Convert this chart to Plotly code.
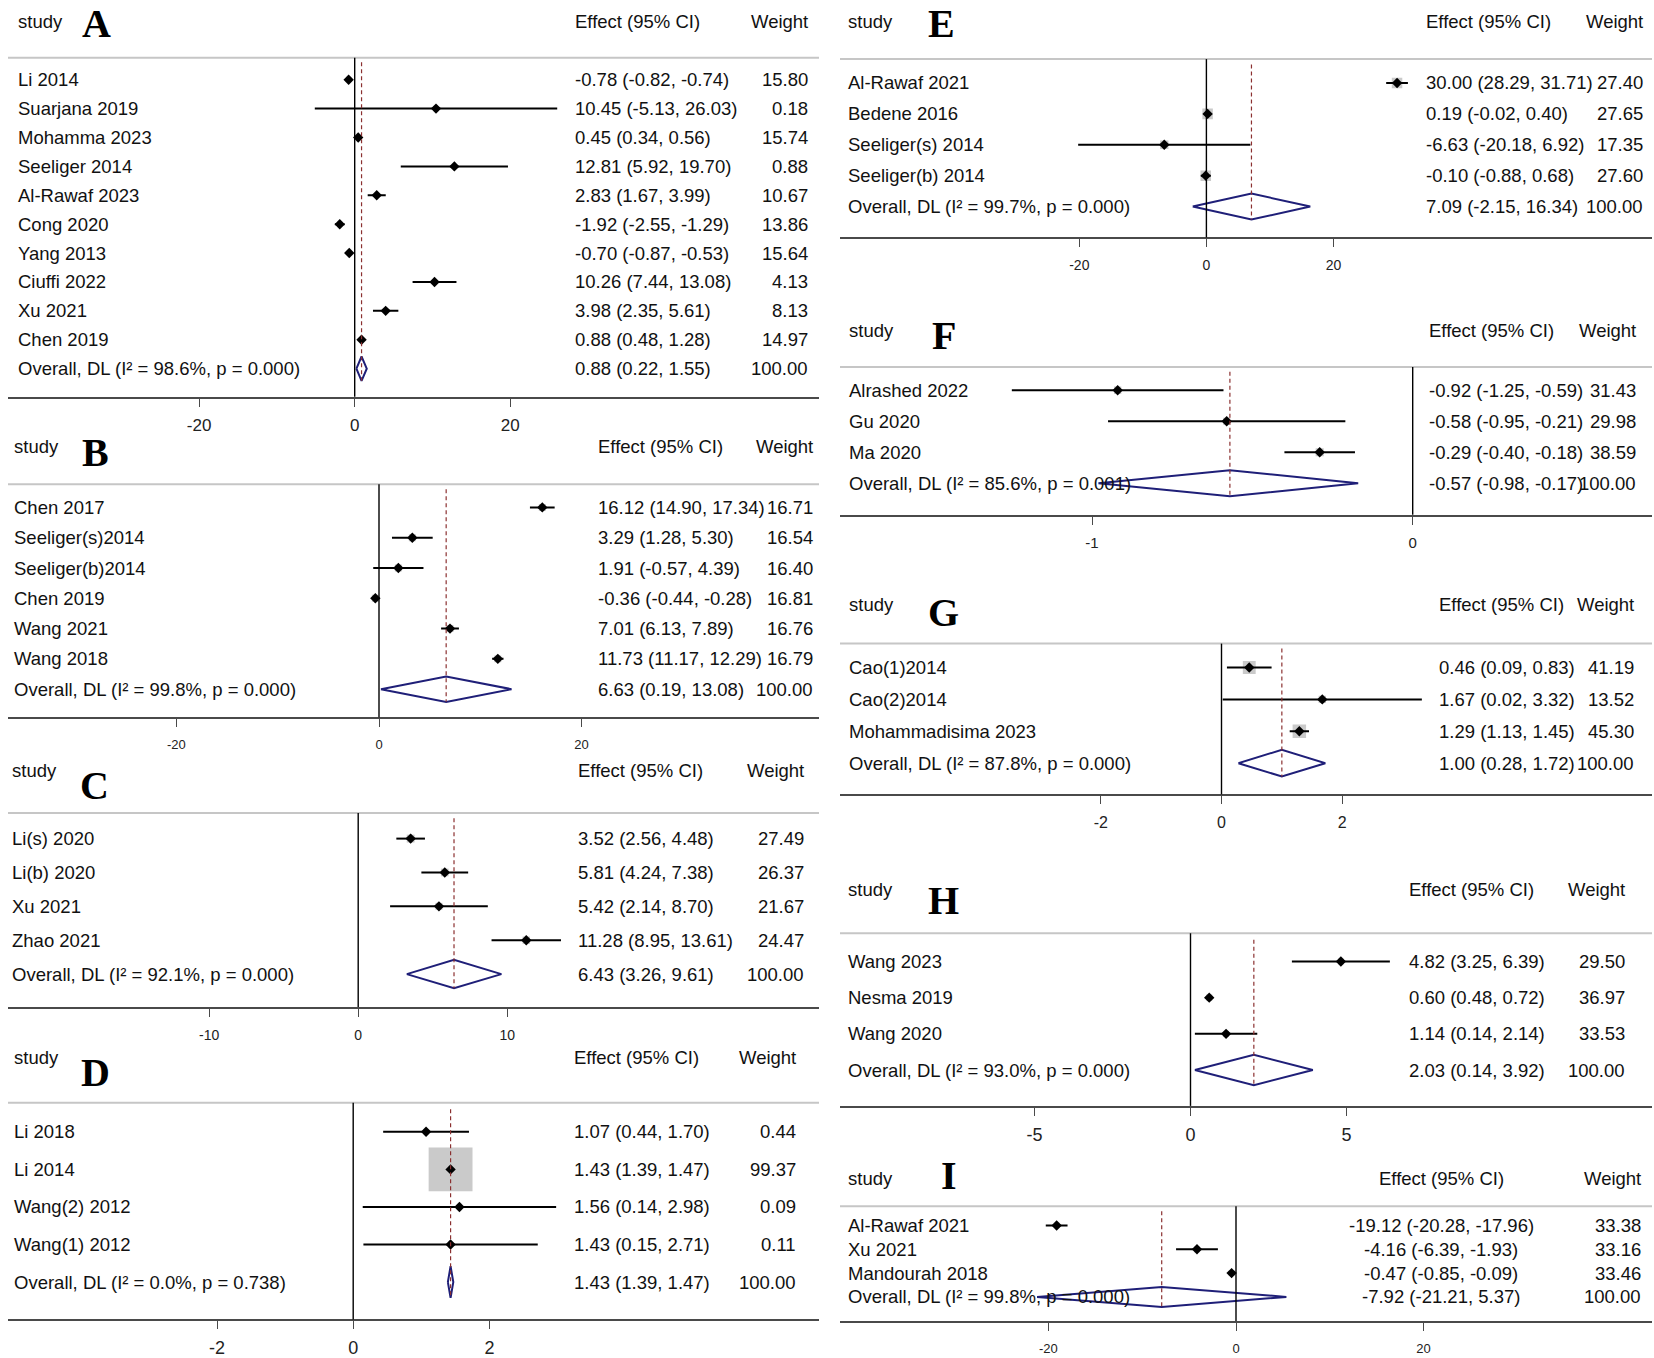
import plotly.graph_objects as go
import numpy as np

W, H = 1654, 1358
FONT = "Liberation Sans, Arial, Helvetica, sans-serif"
SERIF = "Liberation Serif, Times New Roman, serif"

# ---------------- data ----------------
A_study = ["Li 2014", "Suarjana 2019", "Mohamma 2023", "Seeliger 2014", "Al-Rawaf 2023",
           "Cong 2020", "Yang 2013", "Ciuffi 2022", "Xu 2021", "Chen 2019"]
A_est = [-0.78, 10.45, 0.45, 12.81, 2.83, -1.92, -0.70, 10.26, 3.98, 0.88]
A_lo = [-0.82, -5.13, 0.34, 5.92, 1.67, -2.55, -0.87, 7.44, 2.35, 0.48]
A_hi = [-0.74, 26.03, 0.56, 19.70, 3.99, -1.29, -0.53, 13.08, 5.61, 1.28]
A_wt = [15.80, 0.18, 15.74, 0.88, 10.67, 13.86, 15.64, 4.13, 8.13, 14.97]
A_overall = [0.88, 0.22, 1.55]
A_het = [98.6, 0.000]
A_ticks = [-20, 0, 20]

B_study = ["Chen 2017", "Seeliger(s)2014", "Seeliger(b)2014", "Chen 2019", "Wang 2021", "Wang 2018"]
B_est = [16.12, 3.29, 1.91, -0.36, 7.01, 11.73]
B_lo = [14.90, 1.28, -0.57, -0.44, 6.13, 11.17]
B_hi = [17.34, 5.30, 4.39, -0.28, 7.89, 12.29]
B_wt = [16.71, 16.54, 16.40, 16.81, 16.76, 16.79]
B_overall = [6.63, 0.19, 13.08]
B_het = [99.8, 0.000]
B_ticks = [-20, 0, 20]

C_study = ["Li(s) 2020", "Li(b) 2020", "Xu 2021", "Zhao 2021"]
C_est = [3.52, 5.81, 5.42, 11.28]
C_lo = [2.56, 4.24, 2.14, 8.95]
C_hi = [4.48, 7.38, 8.70, 13.61]
C_wt = [27.49, 26.37, 21.67, 24.47]
C_overall = [6.43, 3.26, 9.61]
C_het = [92.1, 0.000]
C_ticks = [-10, 0, 10]

D_study = ["Li 2018", "Li 2014", "Wang(2) 2012", "Wang(1) 2012"]
D_est = [1.07, 1.43, 1.56, 1.43]
D_lo = [0.44, 1.39, 0.14, 0.15]
D_hi = [1.70, 1.47, 2.98, 2.71]
D_wt = [0.44, 99.37, 0.09, 0.11]
D_overall = [1.43, 1.39, 1.47]
D_het = [0.0, 0.738]
D_ticks = [-2, 0, 2]

E_study = ["Al-Rawaf 2021", "Bedene 2016", "Seeliger(s) 2014", "Seeliger(b) 2014"]
E_est = [30.00, 0.19, -6.63, -0.10]
E_lo = [28.29, -0.02, -20.18, -0.88]
E_hi = [31.71, 0.40, 6.92, 0.68]
E_wt = [27.40, 27.65, 17.35, 27.60]
E_overall = [7.09, -2.15, 16.34]
E_het = [99.7, 0.000]
E_ticks = [-20, 0, 20]

F_study = ["Alrashed 2022", "Gu 2020", "Ma 2020"]
F_est = [-0.92, -0.58, -0.29]
F_lo = [-1.25, -0.95, -0.40]
F_hi = [-0.59, -0.21, -0.18]
F_wt = [31.43, 29.98, 38.59]
F_overall = [-0.57, -0.98, -0.17]
F_het = [85.6, 0.001]
F_ticks = [-1, 0]

G_study = ["Cao(1)2014", "Cao(2)2014", "Mohammadisima 2023"]
G_est = [0.46, 1.67, 1.29]
G_lo = [0.09, 0.02, 1.13]
G_hi = [0.83, 3.32, 1.45]
G_wt = [41.19, 13.52, 45.30]
G_overall = [1.00, 0.28, 1.72]
G_het = [87.8, 0.000]
G_ticks = [-2, 0, 2]

H_study = ["Wang 2023", "Nesma 2019", "Wang 2020"]
H_est = [4.82, 0.60, 1.14]
H_lo = [3.25, 0.48, 0.14]
H_hi = [6.39, 0.72, 2.14]
H_wt = [29.50, 36.97, 33.53]
H_overall = [2.03, 0.14, 3.92]
H_het = [93.0, 0.000]
H_ticks = [-5, 0, 5]

I_study = ["Al-Rawaf 2021", "Xu 2021", "Mandourah 2018"]
I_est = [-19.12, -4.16, -0.47]
I_lo = [-20.28, -6.39, -0.85]
I_hi = [-17.96, -1.93, -0.09]
I_wt = [33.38, 33.16, 33.46]
I_overall = [-7.92, -21.21, 5.37]
I_het = [99.8, 0.000]
I_ticks = [-20, 0, 20]

OVERALL_WT = 100.00

panels_data = {
    "A": (A_study, A_est, A_lo, A_hi, A_wt, A_overall, A_het, A_ticks),
    "B": (B_study, B_est, B_lo, B_hi, B_wt, B_overall, B_het, B_ticks),
    "C": (C_study, C_est, C_lo, C_hi, C_wt, C_overall, C_het, C_ticks),
    "D": (D_study, D_est, D_lo, D_hi, D_wt, D_overall, D_het, D_ticks),
    "E": (E_study, E_est, E_lo, E_hi, E_wt, E_overall, E_het, E_ticks),
    "F": (F_study, F_est, F_lo, F_hi, F_wt, F_overall, F_het, F_ticks),
    "G": (G_study, G_est, G_lo, G_hi, G_wt, G_overall, G_het, G_ticks),
    "H": (H_study, H_est, H_lo, H_hi, H_wt, H_overall, H_het, H_ticks),
    "I": (I_study, I_est, I_lo, I_hi, I_wt, I_overall, I_het, I_ticks),
}

# ---------------- layout (pixel geometry of each panel) ----------------
L = dict(x0=8, x1=819)
R = dict(x0=840, x1=1652)
geom = {
    "A": dict(**L, zero=354.7, ppu=7.78, gray=58, row0=80, sp=29.0, axis=398.3, head=22,
              lx=16.4, let=(96, 23.5), eff=573, effanc="left", wt=810, tfs=17, boxk=0.9),
    "B": dict(**L, zero=379, ppu=10.13, gray=486, row0=509.3, sp=30.4, axis=720, head=448.3,
              lx=12.4, let=(95, 454), eff=595.5, effanc="left", wt=815, tfs=13, boxk=1.7),
    "C": dict(**L, zero=358.2, ppu=14.9, gray=816, row0=841.7, sp=34.0, axis=1010.7, head=773.3,
              lx=10, let=(94.5, 788), eff=575.6, effanc="left", wt=806, tfs=14, boxk=1.5),
    "D": dict(**L, zero=353.2, ppu=68.1, gray=1106.7, row0=1136, sp=37.7, axis=1324.3, head=1061,
              lx=12.4, let=(95, 1076), eff=572, effanc="left", wt=797.5, tfs=18, boxk=4.4),
    "E": dict(**R, zero=1206.4, ppu=6.355, gray=59.3, row0=83.3, sp=31.0, axis=238.3, head=21.7,
              lx=845.8, let=(941, 24), eff=1423.8, effanc="left", wt=1645, tfs=14, boxk=2.0),
    "F": dict(**R, zero=1412.7, ppu=320.7, gray=368.3, row0=391.7, sp=31.1, axis=516.7, head=331.7,
              lx=847, let=(944, 337), eff=1426.6, effanc="left", wt=1638.4, tfs=15, boxk=1.3),
    "G": dict(**R, zero=1221.5, ppu=60.35, gray=646, row0=670, sp=32.0, axis=797.3, head=606.7,
              lx=847, let=(943, 614.5), eff=1436.6, effanc="left", wt=1635.6, tfs=16, boxk=2.0),
    "H": dict(**R, zero=1190.5, ppu=31.2, gray=936.7, row0=965, sp=36.33, axis=1110, head=892.7,
              lx=845.8, let=(943, 904), eff=1407, effanc="left", wt=1627, tfs=18, boxk=1.0),
    "I": dict(**R, zero=1236, ppu=9.38, gray=1210.7, row0=1230, sp=23.9, axis=1326, head=1182.7,
              lx=845.8, let=(949, 1179.5), eff=1441, effanc="center", wt=1643, tfs=13, boxk=1.0),
}

TXT = 18.5
NAVY = "#1f1f78"
fig = go.Figure()
annotations = []
shapes = []
layout_axes = {}


def px(xp):
    return xp / W


def py(yp):
    return 1 - yp / H


for k, letter in enumerate("ABCDEFGHI", start=1):
    study, est, lo, hi, wt, ov, het, ticks = panels_data[letter]
    g = geom[letter]
    est = np.array(est); lo = np.array(lo); hi = np.array(hi); wt = np.array(wt)
    n = len(study)
    xa = "x" if k == 1 else f"x{k}"
    ya = "y" if k == 1 else f"y{k}"
    xname = "xaxis" if k == 1 else f"xaxis{k}"
    yname = "yaxis" if k == 1 else f"yaxis{k}"

    xr = [(g["x0"] - g["zero"]) / g["ppu"], (g["x1"] - g["zero"]) / g["ppu"]]
    yr = [(g["axis"] - g["row0"]) / g["sp"], (g["gray"] - g["row0"]) / g["sp"]]
    standoff = max(0, int(round(22 - 8 - g["tfs"] * 0.6)))
    layout_axes[xname] = dict(
        domain=[px(g["x0"]), px(g["x1"])], range=xr, anchor=ya,
        showgrid=False, zeroline=False, showline=True, linecolor="#4a4a4a", linewidth=2,
        ticks="outside", ticklen=8, tickwidth=1.3, tickcolor="#4a4a4a",
        tickvals=ticks, ticktext=[str(t) for t in ticks],
        tickfont=dict(family=FONT, size=g["tfs"], color="#222"),
        ticklabelstandoff=standoff, fixedrange=True,
    )
    layout_axes[yname] = dict(
        domain=[py(g["axis"]), py(g["gray"])], range=yr, anchor=xa,
        visible=False, showgrid=False, zeroline=False, fixedrange=True,
    )

    rows = np.arange(n)
    # weight boxes
    fig.add_trace(go.Scatter(
        x=est, y=rows, xaxis=xa, yaxis=ya, mode="markers",
        marker=dict(symbol="square", size=g["boxk"] * np.sqrt(wt), color="#b4b4b4",
                    line=dict(width=0)),
        hoverinfo="skip"))
    # CI lines + point estimate
    fig.add_trace(go.Scatter(
        x=est, y=rows, xaxis=xa, yaxis=ya, mode="markers",
        marker=dict(symbol="diamond", size=8, color="black", line=dict(width=0)),
        error_x=dict(type="data", symmetric=False, array=hi - est, arrayminus=est - lo,
                     width=0, thickness=2, color="black"),
        hoverinfo="skip"))
    # overall diamond
    hh = 0.42
    oe, ol, oh = ov
    fig.add_trace(go.Scatter(
        x=[ol, oe, oh, oe, ol], y=[n, n - hh, n, n + hh, n], xaxis=xa, yaxis=ya,
        mode="lines", line=dict(color=NAVY, width=2), hoverinfo="skip"))

    # gray top rule
    shapes.append(dict(type="line", xref="paper", yref="paper", x0=px(g["x0"]), x1=px(g["x1"]),
                       y0=py(g["gray"]), y1=py(g["gray"]), line=dict(color="#c6c6c6", width=2)))
    # zero line
    shapes.append(dict(type="line", xref=xa, yref=f"{ya} domain", x0=0, x1=0, y0=0, y1=1,
                       line=dict(color="black", width=1.4)))
    # dashed overall line
    shapes.append(dict(type="line", xref=xa, yref=ya, x0=oe, x1=oe, y0=-0.6, y1=n + hh,
                       line=dict(color="#8b3030", width=1.2, dash="4px,3px")))

    # headers
    hy = py(g["head"])
    annotations.append(dict(text="study", x=px(g["lx"]), y=hy, xref="paper", yref="paper",
                            xanchor="left", yanchor="middle", showarrow=False,
                            font=dict(family=FONT, size=TXT, color="#111")))
    annotations.append(dict(text=letter, x=px(g["let"][0]), y=py(g["let"][1]),
                            xref="paper", yref="paper", xanchor="center", yanchor="middle",
                            showarrow=False,
                            font=dict(family=SERIF, size=40, color="black", weight="bold")))
    annotations.append(dict(text="Effect (95% CI)", x=px(g["eff"]), y=hy, xref="paper", yref="paper",
                            xanchor=g["effanc"], yanchor="middle", showarrow=False,
                            font=dict(family=FONT, size=TXT, color="#111")))
    annotations.append(dict(text="Weight", x=px(g["wt"]), y=hy, xref="paper", yref="paper",
                            xanchor="right", yanchor="middle", showarrow=False,
                            font=dict(family=FONT, size=TXT, color="#111")))

    labels = list(study) + [f"Overall, DL (I\u00b2 = {het[0]:.1f}%, p = {het[1]:.3f})"]
    effs = [f"{e:.2f} ({a:.2f}, {b:.2f})" for e, a, b in zip(est, lo, hi)] + \
           [f"{oe:.2f} ({ol:.2f}, {oh:.2f})"]
    wts = [f"{w:.2f}" for w in wt] + [f"{OVERALL_WT:.2f}"]
    for i in range(n + 1):
        annotations.append(dict(text=labels[i], x=px(g["lx"]), y=i, xref="paper", yref=ya,
                                xanchor="left", yanchor="middle", showarrow=False,
                                font=dict(family=FONT, size=TXT, color="#111")))
        annotations.append(dict(text=effs[i], x=px(g["eff"]), y=i, xref="paper", yref=ya,
                                xanchor=g["effanc"], yanchor="middle", showarrow=False,
                                font=dict(family=FONT, size=TXT, color="#111")))
        annotations.append(dict(text=wts[i], x=px(g["wt"]), y=i, xref="paper", yref=ya,
                                xanchor="right", yanchor="middle", showarrow=False,
                                font=dict(family=FONT, size=TXT, color="#111")))

fig.update_layout(
    width=W, height=H, margin=dict(l=0, r=0, t=0, b=0),
    paper_bgcolor="white", plot_bgcolor="rgba(0,0,0,0)", showlegend=False,
    annotations=annotations, shapes=shapes, **layout_axes,
)

fig.write_html("out.html", post_script="document.body.style.margin='0';",
               config={"displayModeBar": False})
